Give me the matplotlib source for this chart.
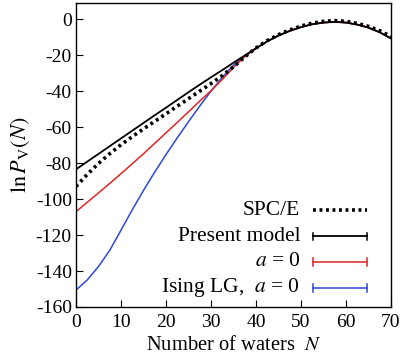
import numpy as np
import matplotlib
matplotlib.use("Agg")
import matplotlib.pyplot as plt

plt.rcParams['font.family'] = ['Liberation Serif', 'DejaVu Serif']
plt.rcParams['mathtext.fontset'] = 'stix'
plt.rcParams['axes.unicode_minus'] = False

# %% data
N = [0, 2.5, 5, 7.5, 10, 12.5, 15, 17.5, 20, 22.5, 25, 27.5, 30, 32.5, 35, 37.5,
     40, 42.5, 45, 47.5, 50, 52.5, 55, 57.5, 60, 62.5, 65, 67.5, 70]

# N >= 40: the three model curves coincide
tail = [-16.2, -12.3, -9.1, -6.5, -4.4, -2.8, -1.9, -1.5, -1.9, -3.0, -4.7, -7.3, -10.7]
spce_tail = [-16.0, -11.9, -8.6, -6.0, -3.8, -2.2, -1.2, -0.8, -1.2, -2.3, -4.0, -6.4, -9.6]

spce = [-93.0, -86.3, -80.2, -74.8, -69.8, -65.3, -61.0, -56.8, -52.6, -48.4, -44.2,
        -40.0, -35.8, -31.4, -26.5, -21.0] + spce_tail
present = [-83.5, -79.2, -74.9, -70.6, -66.3, -62.0, -57.7, -53.4, -49.2, -44.9,
           -40.6, -36.4, -32.3, -28.3, -24.2, -20.2] + tail
a_zero = [-107.0, -101.8, -96.6, -91.3, -85.9, -80.4, -74.8, -69.0, -63.2, -57.4,
          -51.5, -45.5, -39.8, -33.5, -26.8, -20.8] + tail
ising = [-150.6, -145.0, -137.5, -128.5, -117.3, -106.0, -95.2, -85.0, -75.3, -66.0,
         -57.0, -48.3, -40.0, -32.3, -25.6, -20.6] + tail

labels = ['SPC/E', 'Present model', r'$a$ = 0', r'Ising LG,  $a$ = 0']

red = '#e02424'
blue = '#2f48d6'

# %% plot
fig = plt.figure(figsize=(4.02, 3.62), dpi=100)
ax = fig.add_axes([0.189, 0.152, 0.7836, 0.8397])

ax.plot(N, ising, color=blue, lw=1.1)
ax.plot(N, a_zero, color=red, lw=1.1)
ax.plot(N, present, color='black', lw=1.3)
ax.plot(N, spce, color='black', lw=2.6, linestyle=(0, (0.8, 1.0)))

ax.set_xlim(0, 70)
ax.set_ylim(-160, 9)
ax.set_xticks(np.arange(0, 71, 10))
ax.set_yticks(np.arange(-160, 1, 20))
ax.tick_params(direction='in', length=5, width=0.8, labelsize=14, pad=3)
ax.tick_params(axis='x', pad=5)
for s in ax.spines.values():
    s.set_linewidth(1.0)

ax.set_xlabel(r'Number of waters  $N$', fontsize=14.8, labelpad=4)
ax.set_ylabel(r'$\ln P_{\rm V}(N)$', fontsize=16, labelpad=3)

# gnuplot-style key, bottom right
styles = [dict(color='black', lw=2.6, linestyle=(0, (0.8, 1.0))),
          dict(color='black', lw=1.3),
          dict(color=red, lw=1.1),
          dict(color=blue, lw=1.1)]
ys = [0.318, 0.232, 0.148, 0.063]
x0, x1, xt = 0.752, 0.925, 0.712
for i, (lab, st, y) in enumerate(zip(labels, styles, ys)):
    ax.text(xt, y, lab, transform=ax.transAxes, ha='right', va='center', fontsize=15.5)
    ax.plot([x0, x1], [y, y], transform=ax.transAxes, **st)
    if i > 0:
        for xx in (x0, x1):
            ax.plot([xx, xx], [y - 0.013, y + 0.013], transform=ax.transAxes,
                    color=st['color'], lw=1.1)

fig.savefig('out.png', dpi=100)
